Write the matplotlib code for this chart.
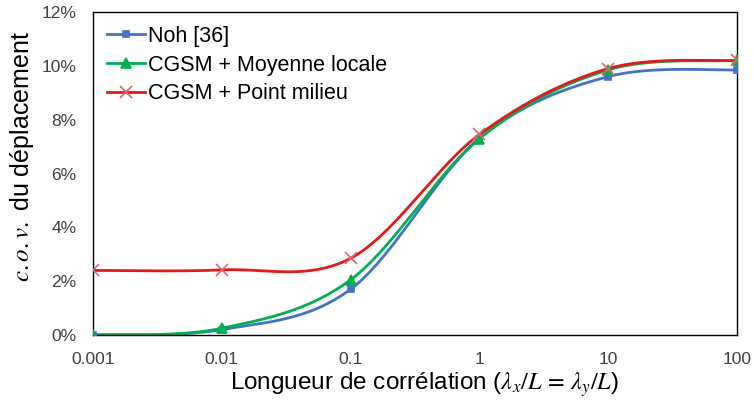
import matplotlib
matplotlib.use("Agg")
import matplotlib.pyplot as plt
import numpy as np

plt.rcParams['font.family'] = ['Liberation Sans', 'DejaVu Sans']
plt.rcParams['mathtext.fontset'] = 'stix'

# correlation length (lambda/L)
corr_len = [0.001, 0.01, 0.1, 1, 10, 100]
# c.o.v. of displacement (%)
noh = [0.0, 0.2, 1.7, 7.3, 9.6, 9.85]
cgsm_moyenne = [0.0, 0.25, 2.05, 7.3, 9.85, 10.2]
cgsm_milieu = [2.4, 2.42, 2.85, 7.45, 9.9, 10.2]


def excel_smooth(xs, ys, n=40):
    # Excel-like smoothed line: cubic Bezier through points, done in log-x space
    lx = np.log10(xs)
    y = np.asarray(ys, dtype=float)
    px, py = [], []
    m = len(lx)
    for i in range(m - 1):
        x0, y0 = lx[max(i - 1, 0)], y[max(i - 1, 0)]
        x1, y1 = lx[i], y[i]
        x2, y2 = lx[i + 1], y[i + 1]
        x3, y3 = lx[min(i + 2, m - 1)], y[min(i + 2, m - 1)]
        c1x, c1y = x1 + (x2 - x0) / 6, y1 + (y2 - y0) / 6
        c2x, c2y = x2 - (x3 - x1) / 6, y2 - (y3 - y1) / 6
        t = np.linspace(0, 1, n)
        bx = (1-t)**3*x1 + 3*(1-t)**2*t*c1x + 3*(1-t)*t**2*c2x + t**3*x2
        by = (1-t)**3*y1 + 3*(1-t)**2*t*c1y + 3*(1-t)*t**2*c2y + t**3*y2
        px.extend(bx)
        py.extend(by)
    return 10 ** np.array(px), np.array(py)


fig = plt.figure(figsize=(7.54, 4.08), dpi=100)
ax = fig.add_axes([0.1233, 0.1789, 0.8542, 0.7917])

series = [
    (noh, "Noh [36]", "#4472C4", "s", 5, "#4472C4"),
    (cgsm_moyenne, "CGSM + Moyenne locale", "#00B050", "^", 7, "#00B050"),
    (cgsm_milieu, "CGSM + Point milieu", "#E01B1B", "x", 8, "#E06666"),
]
for vals, lab, col, mk, ms, mcol in series:
    sx, sy = excel_smooth(corr_len, vals)
    ax.plot(sx, sy, color=col, lw=2, zorder=2)
    ax.plot(corr_len, vals, ls="none", marker=mk, ms=ms, color=mcol,
            mec=mcol, mew=1.2, zorder=3)
    ax.plot([], [], color=col, lw=2, marker=mk, ms=ms, mfc=mcol, mec=mcol,
            mew=1.2, label=lab)

ax.set_xscale("log")
ax.set_xlim(0.001, 100)
ax.set_ylim(0, 12)
ax.set_xticks(corr_len)
ax.set_xticklabels(["0.001", "0.01", "0.1", "1", "10", "100"])
ax.minorticks_off()
ax.set_yticks(range(0, 13, 2))
ax.set_yticklabels([f"{v}%" for v in range(0, 13, 2)])
ax.tick_params(length=0, labelsize=12.5, colors="#404040", pad=12)
for s in ax.spines.values():
    s.set_color("black")
    s.set_linewidth(1)

ax.set_xlabel(r"Longueur de corrélation ($\lambda_x/L\,=\,\lambda_y/L$)",
              fontsize=17.5)
ax.xaxis.set_label_coords(0.514, -0.108)
ax.set_ylabel(r"$c.o.v.$ du déplacement", fontsize=18)
ax.yaxis.set_label_coords(-0.088, 0.554)

ax.legend(loc="upper left", frameon=False, fontsize=15.5, handlelength=1.75,
          handletextpad=0.15, borderaxespad=0.25, labelspacing=0.35,
          bbox_to_anchor=(0.0, 1.0))

fig.savefig("out.png", dpi=100)
